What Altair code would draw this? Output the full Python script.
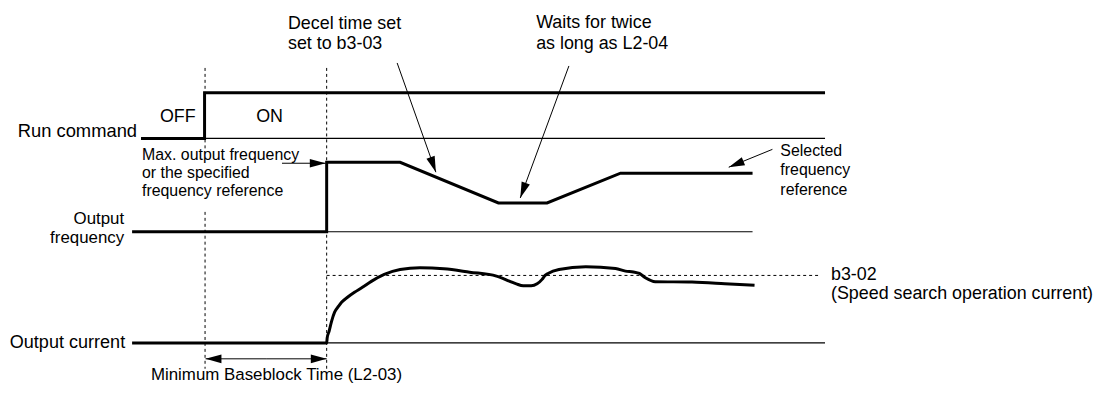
import math
import altair as alt
import pandas as pd

# ---- Timing traces (time position, level) ----
run_t = [142, 206, 206, 831]
run_v = [138, 138, 92, 92]

freq_t = [133, 329, 329, 403, 502, 551, 625, 758]
freq_v = [232, 232, 162, 162, 203, 203, 173, 173]

cur_t = [133, 329, 329.5, 331.5, 334, 337, 341, 344, 350, 357, 365, 374, 387, 403, 423,
         447, 473, 500, 513, 520, 527, 535, 541, 546, 549, 552, 563, 590, 620, 630,
         638, 644, 650, 660, 697, 730, 760]
cur_v = [344, 344, 339, 332, 322, 313, 307, 303, 298, 293, 288, 282, 275, 270, 268.3,
         269.3, 272.7, 276.7, 281.7, 284.5, 286.5, 286.5, 284.5, 280, 276, 274, 270, 267.3, 269, 271.7,
         272.5, 274, 278.3, 282.3, 282.7, 284.3, 286]

# thin reference baselines (start, end, level)
base_t1 = [206, 329, 329]
base_t2 = [831, 758, 831]
base_v = [138, 232, 344]

# dashed guides
dash_t1 = [206.5, 206.5, 329, 329]
dash_t2 = [206.5, 206.5, 329, 827]
dash_v1 = [67, 212, 67, 276]
dash_v2 = [150, 370, 370, 276]

# arrows (from -> tip)
arr_x1 = [284, 400, 573, 778, 268, 268]
arr_y1 = [163, 62, 65, 149, 360, 360]
arr_x2 = [328, 439, 524, 734, 207, 329]
arr_y2 = [163, 172, 198, 167, 360, 360]

# texts
lt_text = ["OFF", "ON", "Max. output frequency", "or the specified", "frequency reference",
           "Decel time set", "set to b3-03", "Waits for twice", "as long as L2-04",
           "Selected", "frequency", "reference", "b3-02",
           "(Speed search operation current)", "Minimum Baseblock Time (L2-03)"]
lt_x = [161, 258, 143, 143, 143, 290, 290, 540, 540, 786, 786, 786, 837, 837, 152]
lt_y = [121, 121, 160, 178, 196, 28, 48, 27, 48, 156, 175, 195, 281, 300, 381]
lt_size = [18, 18, 16, 16, 16, 18, 18, 18, 18, 16, 16, 16, 18, 18, 17]

rt_text = ["Run command", "Output", "frequency", "Output current"]
rt_x = [138, 125, 125, 126]
rt_y = [137, 224, 243, 349]
rt_size = [18.5, 17, 17, 18.2]

# ---- build tables ----
lines = pd.DataFrame(
    [{"s": "run", "o": i, "t": t, "v": v} for i, (t, v) in enumerate(zip(run_t, run_v))]
    + [{"s": "freq", "o": i, "t": t, "v": v} for i, (t, v) in enumerate(zip(freq_t, freq_v))]
)
cur = pd.DataFrame({"o": range(len(cur_t)), "t": cur_t, "v": cur_v})
base = pd.DataFrame({"t": base_t1, "t2": base_t2, "v": base_v})
dash = pd.DataFrame({"t": dash_t1, "t2": dash_t2, "v": dash_v1, "v2": dash_v2})
arr = pd.DataFrame({"t": arr_x1, "v": arr_y1, "t2": arr_x2, "v2": arr_y2})
arr["ang"] = [math.degrees(math.atan2(b - a, d - c)) % 360
              for a, b, c, d in zip(arr_y1, arr_y2, arr_x1, arr_x2)]
lt = pd.DataFrame({"txt": lt_text, "t": lt_x, "v": lt_y, "fs": lt_size})
rt = pd.DataFrame({"txt": rt_text, "t": rt_x, "v": rt_y, "fs": rt_size})

XS = alt.Scale(domain=[8, 1110], nice=False, zero=False)
YS = alt.Scale(domain=[8, 386], nice=False, zero=False, reverse=True)
X = alt.X("t:Q", scale=XS, axis=None)
Y = alt.Y("v:Q", scale=YS, axis=None)

thick = alt.Chart(lines).mark_line(color="black", strokeWidth=3, strokeJoin="miter").encode(
    x=X, y=Y, detail="s:N", order="o:Q")
curl = alt.Chart(cur).mark_line(color="black", strokeWidth=3, interpolate="monotone").encode(
    x=X, y=Y, order="o:Q")
thin = alt.Chart(base).mark_rule(color="black", strokeWidth=1.2).encode(x=X, x2="t2:Q", y=Y)
dashed = alt.Chart(dash).mark_rule(color="black", strokeWidth=1, strokeDash=[3, 3]).encode(
    x=X, x2="t2:Q", y=Y, y2="v2:Q")
shafts = alt.Chart(arr).mark_rule(color="black", strokeWidth=1).encode(
    x=X, x2="t2:Q", y=Y, y2="v2:Q")
heads = alt.Chart(arr).mark_point(
    shape="M0,0L-2,-0.55L-2,0.55Z", filled=True, color="black", opacity=1, size=256, strokeWidth=0
).encode(x=alt.X("t2:Q", scale=XS, axis=None),
         y=alt.Y("v2:Q", scale=YS, axis=None),
         angle=alt.Angle("ang:Q", scale=None))
ltext = alt.Chart(lt).mark_text(align="left", baseline="alphabetic", font="Liberation Sans",
                                color="black").encode(
    x=X, y=Y, text="txt:N", size=alt.Size("fs:Q", scale=None, legend=None))
rtext = alt.Chart(rt).mark_text(align="right", baseline="alphabetic", font="Liberation Sans",
                                color="black").encode(
    x=X, y=Y, text="txt:N", size=alt.Size("fs:Q", scale=None, legend=None))

chart = alt.layer(dashed, thin, thick, curl, shafts, heads, ltext, rtext).properties(
    width=1102, height=378, padding=0, background="white",
    autosize=alt.AutoSizeParams(type="none"),
).configure_view(stroke="transparent", strokeWidth=0)

chart.save("out.html", embed_options={"renderer": "svg", "actions": False})
